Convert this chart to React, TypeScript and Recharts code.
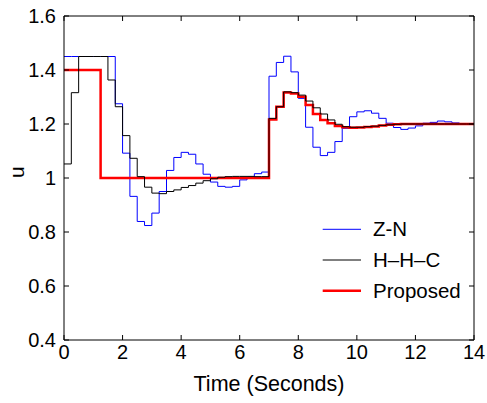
import React from 'react';
import { LineChart, Line, XAxis, YAxis, Legend } from 'recharts';

// sample instants (s), zero-order hold between them
const time = [
  0, 0.25, 0.5, 0.75, 1, 1.25, 1.5, 1.75, 2, 2.25, 2.5, 2.75, 3, 3.25, 3.5, 3.75,
  4, 4.25, 4.5, 4.75, 5, 5.25, 5.5, 5.75, 6, 6.25, 6.5, 6.75, 7, 7.25, 7.5, 7.75,
  8, 8.25, 8.5, 8.75, 9, 9.25, 9.5, 9.75, 10, 10.25, 10.5, 10.75, 11, 11.25, 11.5, 11.75,
  12, 12.25, 12.5, 12.75, 13, 13.25, 13.5, 13.75, 14,
];

const zn = [
  1.45, 1.45, 1.45, 1.45, 1.45, 1.45, 1.45, 1.275, 1.092, 0.932, 0.839, 0.824, 0.87, 0.95, 1.028, 1.076,
  1.095, 1.088, 1.052, 1.014, 0.985, 0.969, 0.966, 0.969, 0.993, 1.003, 1.016, 1.022, 1.377, 1.428, 1.451, 1.393,
  1.295, 1.188, 1.114, 1.083, 1.095, 1.135, 1.184, 1.227, 1.245, 1.249, 1.24, 1.221, 1.203, 1.187, 1.18, 1.185,
  1.193, 1.203, 1.206, 1.211, 1.208, 1.204, 1.201, 1.2, 1.2,
];

const hhc = [
  1.052, 1.316, 1.45, 1.45, 1.45, 1.45, 1.363, 1.264, 1.157, 1.073, 1.005, 0.966, 0.944, 0.942, 0.95, 0.956,
  0.965, 0.972, 0.981, 0.99, 0.997, 1.003, 1.005, 1.006, 1.006, 1.006, 1.005, 1.005, 1.221, 1.264, 1.319, 1.316,
  1.307, 1.285, 1.26, 1.237, 1.215, 1.199, 1.19, 1.188, 1.188, 1.19, 1.192, 1.195, 1.197, 1.199, 1.2, 1.2,
  1.2, 1.2, 1.2, 1.2, 1.2, 1.2, 1.2, 1.2, 1.2,
];

const proposed = [
  1.4, 1.4, 1.4, 1.4, 1.4, 1.0, 1.0, 1.0, 1.0, 1.0, 1.0, 1.0, 1.0, 1.0, 1.0, 1.0,
  1.0, 1.0, 1.0, 1.0, 1.0, 1.0, 1.0, 1.0, 1.0, 1.0, 1.0, 1.0, 1.217, 1.264, 1.317, 1.313,
  1.301, 1.27, 1.237, 1.215, 1.203, 1.193, 1.188, 1.186, 1.187, 1.189, 1.191, 1.194, 1.197, 1.199, 1.2, 1.2,
  1.2, 1.2, 1.2, 1.2, 1.2, 1.2, 1.2, 1.2, 1.2,
];

const xTicks = [0, 2, 4, 6, 8, 10, 12, 14];
const yTicks = [0.4, 0.6, 0.8, 1, 1.2, 1.4, 1.6];

const legendLabels = ['Z-N', 'H–H–C', 'Proposed'];
const legendColors = ['#0000ff', '#000000', '#ff0000'];
const legendWidths = [1, 1, 2.5];

const data = time.map((t, i) => ({ t, zn: zn[i], hhc: hhc[i], proposed: proposed[i] }));

const font = '"Liberation Sans", Arial, Helvetica, sans-serif';
const fmt = (v: number) => String(Number(v.toFixed(1)));
const blank = () => '';

const renderLegend = () => (
  <svg width={160} height={95} style={{ display: 'block' }}>
    {legendLabels.map((name, i) => {
      const y = 15.3 + i * 30.7;
      return (
        <g key={name}>
          <line x1={4.7} x2={43} y1={y} y2={y} stroke={legendColors[i]} strokeWidth={legendWidths[i]} />
          <text x={55} y={y + 7} fontSize={20.5} fontFamily={font} fill="#000">
            {name}
          </text>
        </g>
      );
    })}
  </svg>
);

export default function App() {
  return (
    <div style={{ position: 'absolute', left: 0, top: 0, background: '#fff', fontFamily: font }}>
      <LineChart width={487} height={403} data={data} margin={{ top: 15, right: 12, bottom: 12, left: 0 }}>
        <XAxis
          dataKey="t"
          type="number"
          domain={[0, 14]}
          ticks={xTicks}
          height={51}
          tickSize={-5}
          tickMargin={10}
          stroke="#000"
          tick={{ fill: '#000', fontSize: 20, fontFamily: font }}
          label={{ value: 'Time (Seconds)', position: 'insideBottom', offset: 0, fill: '#000', fontSize: 21.5, fontFamily: font }}
        />
        <XAxis
          xAxisId="top"
          orientation="top"
          dataKey="t"
          type="number"
          domain={[0, 14]}
          ticks={xTicks}
          height={1}
          tickSize={-5}
          stroke="#000"
          tickFormatter={blank}
        />
        <YAxis
          type="number"
          domain={[0.4, 1.6]}
          ticks={yTicks}
          width={64}
          tickSize={-5}
          tickMargin={13}
          stroke="#000"
          tickFormatter={fmt}
          tick={{ fill: '#000', fontSize: 20, fontFamily: font }}
          label={{ value: 'u', angle: -90, position: 'insideLeft', offset: 17, fill: '#000', fontSize: 21, fontFamily: font }}
        />
        <YAxis
          yAxisId="right"
          orientation="right"
          type="number"
          domain={[0.4, 1.6]}
          ticks={yTicks}
          width={1}
          tickSize={-5}
          stroke="#000"
          tickFormatter={blank}
        />
        <Legend
          layout="horizontal"
          verticalAlign="middle"
          align="center"
          content={renderLegend}
          wrapperStyle={{ position: 'absolute', left: 318, top: 214, width: 160, height: 95 }}
        />
        <Line type="stepAfter" dataKey="zn" stroke="#0000ff" strokeWidth={1} dot={false} isAnimationActive={false} />
        <Line type="stepAfter" dataKey="proposed" stroke="#ff0000" strokeWidth={2.5} dot={false} isAnimationActive={false} />
        <Line type="stepAfter" dataKey="hhc" stroke="#000000" strokeWidth={1} dot={false} isAnimationActive={false} />
        <Line xAxisId="top" yAxisId="right" dataKey="zn" stroke="none" dot={false} activeDot={false} legendType="none" isAnimationActive={false} />
      </LineChart>
    </div>
  );
}
